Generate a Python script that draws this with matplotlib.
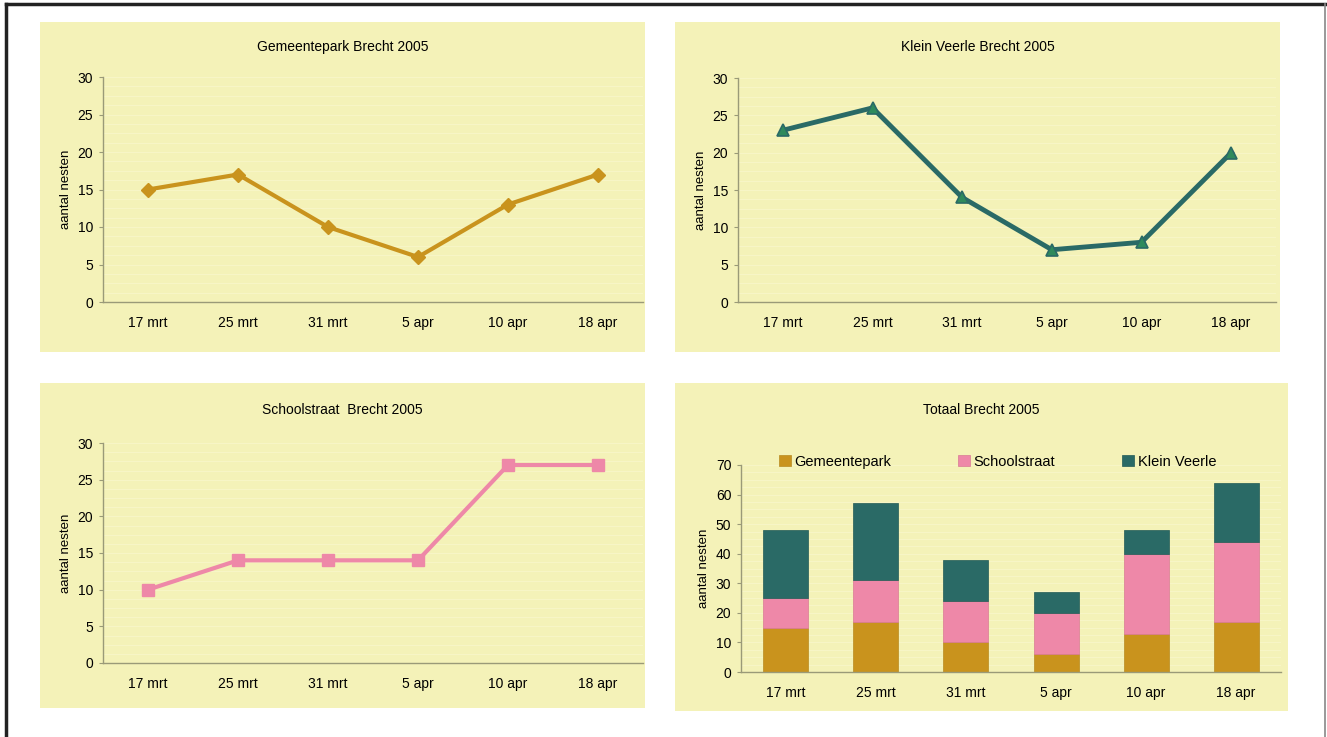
import matplotlib
matplotlib.use("Agg")
import matplotlib.pyplot as plt
from matplotlib.patches import Rectangle
import numpy as np

plt.rcParams['font.family'] = ['Liberation Sans', 'DejaVu Sans']

dates = ["17 mrt", "25 mrt", "31 mrt", "5 apr", "10 apr", "18 apr"]
gemeentepark = [15, 17, 10, 6, 13, 17]
klein_veerle = [23, 26, 14, 7, 8, 20]
schoolstraat = [10, 14, 14, 14, 27, 27]

titles = ["Gemeentepark Brecht 2005", "Klein Veerle Brecht 2005",
          "Schoolstraat  Brecht 2005", "Totaal Brecht 2005"]
ylabel = "aantal nesten"

GOLD = "#C9931D"
TEAL = "#2A6A66"
TRI = "#2F8A5C"
PINK = "#EE88A8"
BG = "#F4F2B8"
GRID = "#F7F5C6"
AXC = "#9A9A78"

W, H = 1327, 737
fig = plt.figure(figsize=(W / 100, H / 100), dpi=100)
fig.patch.set_facecolor("white")

def fr(x0, y0, x1, y1):
    return [x0 / W, 1 - y1 / H, (x1 - x0) / W, (y1 - y0) / H]

# outer frame
fig.add_artist(plt.Line2D([6 / W, 6 / W], [0, 1 - 4 / H], color="#222222", lw=2.5, transform=fig.transFigure))
fig.add_artist(plt.Line2D([6 / W, 1325 / W], [1 - 4 / H, 1 - 4 / H], color="#222222", lw=2.5, transform=fig.transFigure))
fig.add_artist(plt.Line2D([1325 / W, 1325 / W], [0, 1 - 4 / H], color="#888888", lw=1.2, transform=fig.transFigure))

# panel backgrounds
panels = [(40, 22, 645, 352), (675, 22, 1280, 352), (40, 383, 645, 708), (675, 383, 1288, 711)]
for (x0, y0, x1, y1) in panels:
    fig.add_artist(Rectangle((x0 / W, 1 - y1 / H), (x1 - x0) / W, (y1 - y0) / H,
                             transform=fig.transFigure, facecolor=BG, edgecolor="none", zorder=0))

axes_px = [(103, 77, 643, 302), (738, 78, 1276, 302), (103, 443, 643, 663), (741, 465, 1281, 672)]
title_y = [47, 47, 410, 410]

x = np.arange(len(dates))

def style(ax, ymax, step):
    ax.set_facecolor("none")
    ax.set_xlim(-0.5, len(dates) - 0.5)
    ax.set_ylim(0, ymax)
    ax.set_yticks(np.arange(0, ymax + 1, step))
    ax.set_yticks(np.arange(0, ymax + 0.1, step / 4), minor=True)
    ax.set_xticks(x)
    ax.set_xticklabels(dates)
    for s in ["top", "right"]:
        ax.spines[s].set_visible(False)
    for s in ["left", "bottom"]:
        ax.spines[s].set_color(AXC)
        ax.spines[s].set_linewidth(1.0)
    ax.tick_params(axis="y", length=3, color=AXC, labelsize=10, pad=4, which="major")
    ax.tick_params(axis="y", which="minor", length=0)
    ax.tick_params(axis="x", length=0, labelsize=10, pad=10)
    ax.grid(True, axis="y", which="both", color=GRID, lw=0.8)
    ax.set_axisbelow(True)
    ax.set_ylabel(ylabel, fontsize=9.5, labelpad=4)

axs = []
for i, (x0, y0, x1, y1) in enumerate(axes_px):
    ax = fig.add_axes(fr(x0, y0, x1, y1))
    axs.append(ax)
    cx = (panels[i][0] + panels[i][2]) / 2
    fig.text((cx) / W, 1 - title_y[i] / H, titles[i], ha="center", va="center", fontsize=10)

ax = axs[0]
style(ax, 30, 5)
ax.plot(x, gemeentepark, color=GOLD, lw=3, marker="D", ms=7, mfc=GOLD, mec=GOLD, clip_on=False)

ax = axs[1]
style(ax, 30, 5)
ax.plot(x, klein_veerle, color=TEAL, lw=3.5, marker="^", ms=9, mfc=TRI, mec=TEAL, mew=1.2, clip_on=False)

ax = axs[2]
style(ax, 30, 5)
ax.plot(x, schoolstraat, color=PINK, lw=3, marker="s", ms=8, mfc=PINK, mec=PINK, clip_on=False)

ax = axs[3]
style(ax, 70, 10)
g = np.array(gemeentepark)
s = np.array(schoolstraat)
k = np.array(klein_veerle)
ax.bar(x, g, width=0.5, color=GOLD, edgecolor="#B88A20", lw=0.5, label="Gemeentepark")
ax.bar(x, s, width=0.5, bottom=g, color=PINK, edgecolor="#D87A94", lw=0.5, label="Schoolstraat")
ax.bar(x, k, width=0.5, bottom=g + s, color=TEAL, edgecolor="#225A56", lw=0.5, label="Klein Veerle")
leg = ax.legend(loc="center", bbox_to_anchor=(0.475, 1.015), ncol=3, frameon=False,
                fontsize=10.5, handlelength=0.8, handleheight=0.8, handletextpad=0.25,
                columnspacing=4.6)

fig.savefig("out.png", dpi=100, facecolor="white")
